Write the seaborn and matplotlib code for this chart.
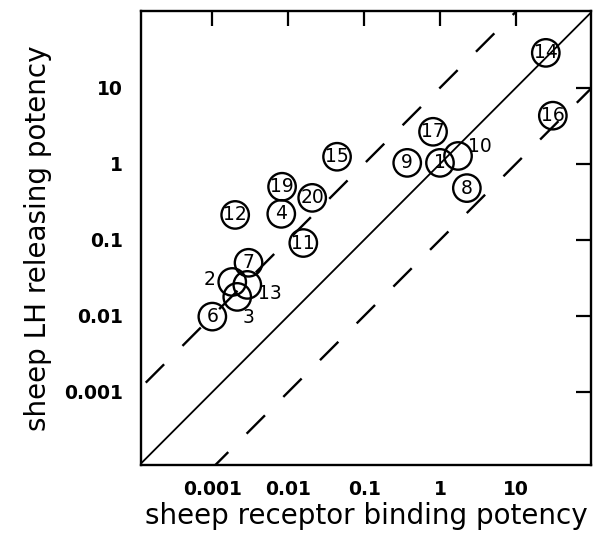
import numpy as np
import pandas as pd
import matplotlib
matplotlib.use("Agg")
import matplotlib.pyplot as plt
import seaborn as sns

# ---- data ----
labels = ["1", "2", "3", "4", "6", "7", "8", "9", "10", "11", "12", "13",
          "14", "15", "16", "17", "19", "20"]
binding = [1.0, 0.00183, 0.00213, 0.0081, 0.0010, 0.0030, 2.26, 0.37, 1.73,
           0.0158, 0.0020, 0.00289, 24.8, 0.044, 30.7, 0.81, 0.0083, 0.0207]
releasing = [1.03, 0.028, 0.0178, 0.22, 0.0098, 0.050, 0.48, 1.03, 1.27,
             0.091, 0.213, 0.0256, 28.8, 1.24, 4.3, 2.64, 0.50, 0.357]
ratios = [0.1, 1.0, 10.0]          # reference lines y = r * x
tick_values = [0.001, 0.01, 0.1, 1, 10]
tick_labels = ["0.001", "0.01", "0.1", "1", "10"]

df = pd.DataFrame({"label": labels, "binding": binding, "releasing": releasing})

# labels drawn outside their circle (offset in points)
outside = {"2": (-16, 1.5), "13": (16.5, -6), "3": (8, -15), "10": (16, 6.5)}

sns.set_style("white")
plt.rcParams["font.family"] = ["DejaVu Sans"]
plt.rcParams["text.color"] = "black"
plt.rcParams["axes.labelcolor"] = "black"
plt.rcParams["xtick.color"] = "black"
plt.rcParams["ytick.color"] = "black"

fig = plt.figure(figsize=(5.93, 5.43), dpi=100)
ax = fig.add_axes([141 / 593, 78 / 543, 450 / 593, 454 / 543])

xlim = (10 ** -3.94, 10 ** 1.99)
ylim = (10 ** -3.96, 10 ** 2.01)
ax.set_xscale("log")
ax.set_yscale("log")
ax.set_xlim(*xlim)
ax.set_ylim(*ylim)

# reference lines
lo, hi = 1e-6, 1e4
for r in ratios:
    lines = pd.DataFrame({"x": [lo, hi], "y": [r * lo, r * hi]})
    if r == 1.0:
        sns.lineplot(data=lines, x="x", y="y", ax=ax, color="black",
                     linewidth=1.3, estimator=None, sort=False)
    else:
        sns.lineplot(data=lines, x="x", y="y", ax=ax, color="black",
                     linewidth=1.7, estimator=None, sort=False,
                     dashes=False)
        ax.lines[-1].set_dashes((11, 11))
ax.set_xlim(*xlim)
ax.set_ylim(*ylim)

sns.scatterplot(data=df, x="binding", y="releasing", ax=ax, s=390,
                marker="o", linewidth=1.7, zorder=3)
coll = ax.collections[-1]
coll.set_facecolor("none")
coll.set_edgecolor("black")

for lab, xv, yv in zip(labels, binding, releasing):
    dx, dy = outside.get(lab, (0, 0))
    ax.annotate(lab, (xv, yv), xytext=(dx, dy), textcoords="offset points",
                ha="center", va="center", fontsize=13.5, color="black",
                zorder=4)

ax.set_xticks(tick_values)
ax.set_xticklabels(tick_labels)
ax.set_yticks(tick_values)
ax.set_yticklabels(tick_labels)
ax.minorticks_off()
ax.tick_params(direction="in", length=11, width=1.6, top=True, right=True,
               labelsize=13.5, colors="black")
ax.tick_params(axis="x", pad=11)
ax.tick_params(axis="y", pad=13)
for t in ax.get_xticklabels() + ax.get_yticklabels():
    t.set_fontweight("bold")

for sp in ax.spines.values():
    sp.set_visible(True)
    sp.set_linewidth(1.7)
    sp.set_color("black")

ax.set_xlabel("sheep receptor binding potency", fontsize=20, labelpad=2,
              color="black")
ax.set_ylabel("sheep LH releasing potency", fontsize=20, labelpad=9,
              color="black")

fig.savefig("out.png", dpi=100)
